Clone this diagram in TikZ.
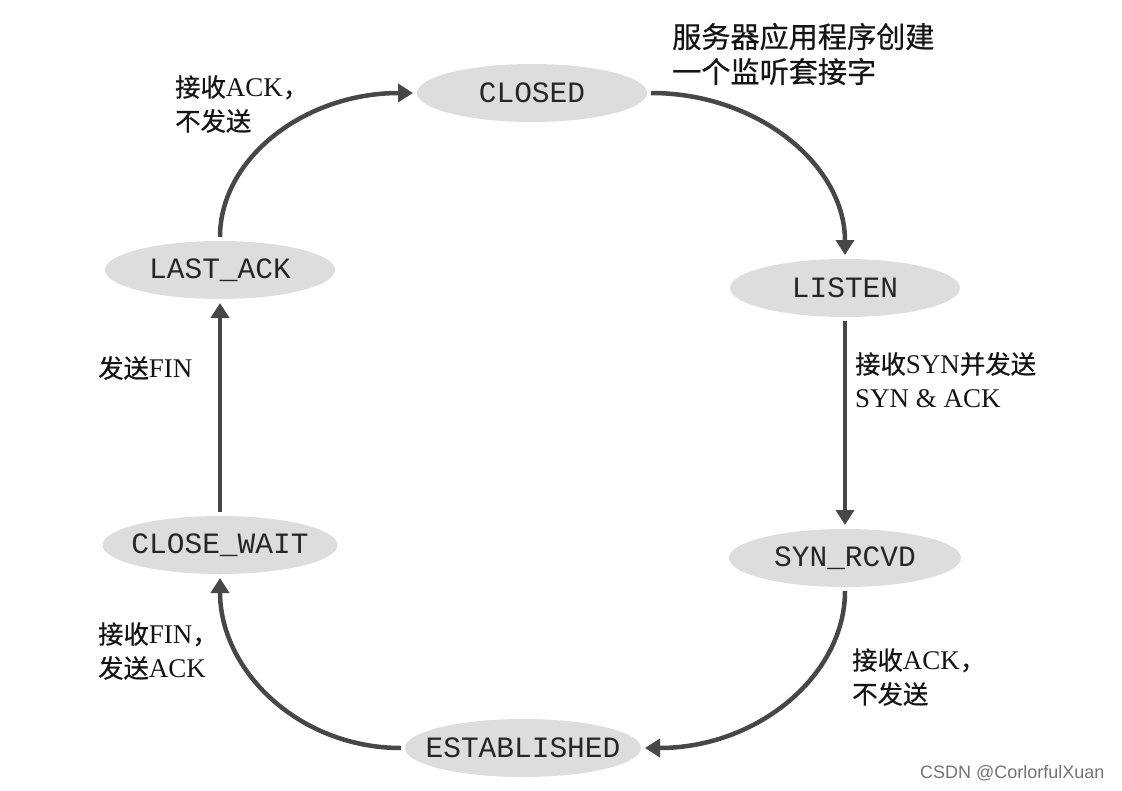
\documentclass[tikz,border=0pt]{standalone}
\usepackage{fontspec}
\setmainfont{Liberation Serif}
\newfontfamily\cjk{Noto Sans CJK SC}[Scale=0.94, FakeBold=0.6]
\newfontfamily\monof{Liberation Mono}
\newfontfamily\wmark{Liberation Sans}
\usetikzlibrary{shapes.geometric,arrows.meta}
\begin{document}
\begin{tikzpicture}[x=1pt,y=-1pt,
  state/.style={ellipse, fill=gray!27, draw=none, inner sep=0pt, outer sep=4pt,
    minimum width=230pt, minimum height=58pt,
    label={[font=\fontsize{29.5}{30}\selectfont\monof, text=black!85]center:#1}},
  conn/.style={line width=4.5pt, draw=black!72, -{Triangle[length=15pt,width=18pt]}},
  lbl/.style={anchor=west, align=left, inner sep=0pt, text=black!92,
    font=\fontsize{27}{34}\selectfont}
]
\useasboundingbox (0,0) rectangle (1122,790);

\node[state=CLOSED] (closed) at (532,93) {};
\node[state=LISTEN] (listen) at (845,288) {};
\node[state=SYN\_RCVD, minimum width=232pt] (syn) at (845,558) {};
\node[state=ESTABLISHED, minimum width=236pt] (est) at (523,748) {};
\node[state=CLOSE\_WAIT, minimum width=235pt] (cw) at (220,545) {};
\node[state=LAST\_ACK] (la) at (220,270) {};

\draw[conn] (closed.east) .. controls +(107,0) and +(0,-90) .. (listen.north);
\draw[conn] (listen.south) -- (syn.north);
\draw[conn] (syn.south) .. controls +(0,84) and +(113,0) .. (est.east);
\draw[conn] (est.west) .. controls +(-102,0) and +(0,93) .. (cw.south);
\draw[conn] (cw.north) -- (la.south);
\draw[conn] (la.north) .. controls +(0,-79) and +(-108,0) .. (closed.west);

\node[lbl, font=\fontsize{31}{35}\selectfont] (t1) at (672,54)
  {{\cjk 服务器应用程序创建}\\{\cjk 一个监听套接字}};
\node[lbl] (t2) at (175,104) {{\cjk 接收}ACK{\cjk ，}\\{\cjk 不发送}};
\node[lbl] (t3) at (98,368) {{\cjk 发送}FIN};
\node[lbl] (t4) at (855,380) {{\cjk 接收}SYN{\cjk 并发送}\\SYN \& ACK};
\node[lbl] (t5) at (98,651) {{\cjk 接收}FIN{\cjk ，}\\{\cjk 发送}ACK};
\node[lbl] (t6) at (852,677) {{\cjk 接收}ACK{\cjk ，}\\{\cjk 不发送}};
\node[anchor=west, inner sep=0pt, text=black!55, font=\fontsize{18}{20}\selectfont\wmark] (wm) at (920,773) {CSDN @CorlorfulXuan};
\end{tikzpicture}
\end{document}
